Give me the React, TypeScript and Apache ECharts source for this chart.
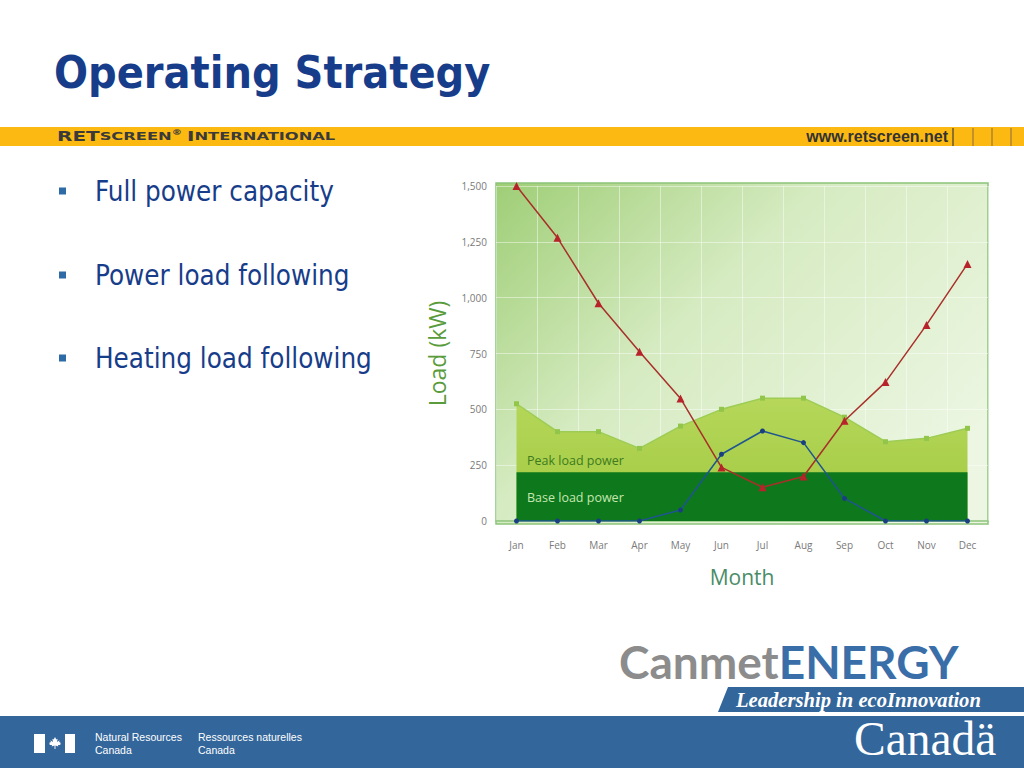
import React, { useEffect, useRef } from 'react';
import * as echarts from 'echarts';

const months = ['Jan', 'Feb', 'Mar', 'Apr', 'May', 'Jun', 'Jul', 'Aug', 'Sep', 'Oct', 'Nov', 'Dec'];
const peakLoadPower = [525, 400, 400, 325, 425, 500, 550, 550, 465, 355, 370, 415];
const baseLoadPower = [218, 218, 218, 218, 218, 218, 218, 218, 218, 218, 218, 218];
const heatingLoad = [1500, 1268, 975, 758, 549, 240, 151, 199, 449, 622, 878, 1151];
const coolingLoad = [0, 0, 0, 0, 49, 299, 403, 351, 101, 0, 0, 0];
const yMin = 0;
const yMax = 1500;
const yStep = 250;
const bullets = ['Full power capacity', 'Power load following', 'Heating load following'];

const leafTemplate = [
  [0, -6], [1.3, -3.6], [2.6, -4.2], [2.1, -1.1], [4.6, -2.7], [4.1, -1.0], [6, -0.1], [5, 0.9],
  [5.6, 2.0], [3.0, 2.0], [3.3, 3.6], [0.5, 2.6], [0.45, 6], [-0.45, 6], [-0.5, 2.6], [-3.3, 3.6],
  [-3.0, 2.0], [-5.6, 2.0], [-5, 0.9], [-6, -0.1], [-4.1, -1.0], [-4.6, -2.7], [-2.1, -1.1],
  [-2.6, -4.2], [-1.3, -3.6],
];

function txt(x: number, y: number, text: string, o: any = {}) {
  return {
    type: 'text',
    x,
    y,
    z: 100,
    scaleX: o.scaleX ?? 1,
    style: {
      text,
      fill: o.fill ?? '#000',
      fontSize: o.fontSize ?? 12,
      fontFamily: o.fontFamily ?? 'Liberation Sans',
      fontWeight: o.fontWeight ?? 'normal',
      fontStyle: o.fontStyle ?? 'normal',
      textAlign: o.align ?? 'left',
      align: o.align ?? 'left',
      textVerticalAlign: 'middle',
      verticalAlign: 'middle',
      rich: o.rich,
    },
  };
}

export default function App() {
  const ref = useRef<HTMLDivElement>(null);
  useEffect(() => {
    document.body.style.margin = '0';
    const chart = echarts.init(ref.current!, null, { renderer: 'svg' });

    const graphics: any[] = [
      // plot background
      {
        type: 'rect',
        z: -1,
        shape: { x: 496, y: 183, width: 492, height: 341 },
        style: {
          fill: new echarts.graphic.LinearGradient(0, 0, 1, 0.7, [
            { offset: 0, color: '#9fce76' },
            { offset: 0.45, color: '#d6ebc2' },
            { offset: 1, color: '#ecf6e2' },
          ]),
          stroke: '#8cc47a',
          lineWidth: 1.5,
        },
      },
      // title
      txt(54, 72, 'Operating Strategy', {
        fill: '#173d8a', fontSize: 44.5, fontWeight: 'bold', fontFamily: 'DejaVu Sans Condensed, DejaVu Sans',
      }),
      // yellow band
      { type: 'rect', z: 5, shape: { x: 0, y: 127, width: 1024, height: 19 }, style: { fill: '#fcb912' } },
      txt(57, 136.5, '{a|RET}{b|SCREEN}{c|®} {a|I}{b|NTERNATIONAL}', {
        scaleX: 1.48,
        rich: {
          a: { fontSize: 13.5, fontWeight: 'bold', fontFamily: 'DejaVu Sans', fill: '#3a3a3a' },
          b: { fontSize: 11, fontWeight: 'bold', fontFamily: 'DejaVu Sans', fill: '#3a3a3a' },
          c: { fontSize: 7, fontWeight: 'bold', fontFamily: 'DejaVu Sans', fill: '#3a3a3a', verticalAlign: 'top' },
        },
      }),
      txt(948, 136.5, 'www.retscreen.net', { align: 'right', fill: '#333333', fontSize: 16, fontWeight: 'bold' }),
      ...[953, 973, 992, 1011].map((x, i) => ({
        type: 'line', z: 6,
        shape: { x1: x, y1: 128, x2: x, y2: 146 },
        style: { stroke: i === 0 ? '#6a5a30' : '#b08530', lineWidth: 1.5 },
      })),
      // bullets
      ...bullets.flatMap((b, i) => {
        const cy = [191, 275, 358][i];
        return [
          { type: 'rect', z: 10, shape: { x: 59, y: cy - 3.5, width: 7, height: 7 }, style: { fill: '#2d6aa6' } },
          txt(95, cy, b, { fill: '#173d8a', fontSize: 27.5, fontFamily: 'DejaVu Sans Condensed, DejaVu Sans' }),
        ];
      }),
      // chart inner labels
      txt(527, 460, 'Peak load power', { fill: '#3d7b1c', fontSize: 12.5, fontFamily: 'Open Sans' }),
      txt(527, 497, 'Base load power', { fill: '#c6e7b0', fontSize: 12.5, fontFamily: 'Open Sans' }),
      // CanmetENERGY logo
      txt(619, 661, '{g|Canmet}{b|ENERGY}', {
        rich: {
          g: { fontSize: 46, fontWeight: 'bold', fontFamily: 'Lato', fill: '#8c8c8c' },
          b: { fontSize: 46, fontWeight: 'bold', fontFamily: 'Lato', fill: '#3a6ea8' },
        },
      }),
      // slanted banner
      {
        type: 'polygon', z: 5,
        shape: { points: [[728, 687], [1024, 687], [1024, 712], [718, 712]] },
        style: { fill: '#33669a' },
      },
      txt(736, 700, 'Leadership in ecoInnovation', {
        fill: '#ffffff', fontSize: 20.6, fontWeight: 'bold', fontStyle: 'italic', fontFamily: 'Liberation Serif',
      }),
      // footer
      { type: 'rect', z: 5, shape: { x: 0, y: 716, width: 1024, height: 52 }, style: { fill: '#33669a' } },
      { type: 'rect', z: 10, shape: { x: 34, y: 734, width: 11, height: 19 }, style: { fill: '#ffffff' } },
      { type: 'rect', z: 10, shape: { x: 65, y: 734, width: 10, height: 19 }, style: { fill: '#ffffff' } },
      {
        type: 'polygon', z: 10,
        shape: { points: leafTemplate.map(([a, b]) => [55 + a * 1.0, 743 + b * 1.0]) },
        style: { fill: '#ffffff' },
      },
      txt(95, 737, 'Natural Resources', { fill: '#ffffff', fontSize: 10.5 }),
      txt(95, 750, 'Canada', { fill: '#ffffff', fontSize: 10.5 }),
      txt(198, 737, 'Ressources naturelles', { fill: '#ffffff', fontSize: 10.5 }),
      txt(198, 750, 'Canada', { fill: '#ffffff', fontSize: 10.5 }),
      txt(854, 739, 'Canadä', { fill: '#ffffff', fontSize: 47.5, fontFamily: 'Liberation Serif' }),
    ];

    chart.setOption({
      animation: false,
      backgroundColor: '#ffffff',
      graphic: { elements: graphics },
      grid: { left: 496, right: 36, top: 186, bottom: 247, containLabel: false },
      xAxis: {
        type: 'category',
        data: months,
        boundaryGap: true,
        name: 'Month',
        nameLocation: 'middle',
        nameGap: 45,
        nameTextStyle: { color: '#4a8c68', fontSize: 21, fontFamily: 'Open Sans' },
        axisLine: { show: true, lineStyle: { color: '#8cc47a', width: 1.5 } },
        axisTick: { show: false },
        axisLabel: { color: '#7a7a7a', fontSize: 10, fontFamily: 'Open Sans', margin: 19 },
        splitLine: { show: true, lineStyle: { color: 'rgba(255,255,255,0.45)', width: 1 } },
      },
      yAxis: {
        type: 'value',
        min: yMin,
        max: yMax,
        interval: yStep,
        name: 'Load (kW)',
        nameLocation: 'middle',
        nameGap: 48,
        nameTextStyle: { color: '#5a9c3c', fontSize: 23, fontFamily: 'Open Sans' },
        axisLine: { show: false },
        axisTick: { show: false },
        axisLabel: {
          color: '#7a7a7a', fontSize: 10, fontFamily: 'Open Sans', margin: 9,
          formatter: (v: number) => v.toLocaleString('en-US'),
        },
        splitLine: { show: true, lineStyle: { color: 'rgba(255,255,255,0.45)', width: 1 } },
      },
      series: [
        {
          name: 'Peak load power',
          type: 'line',
          data: peakLoadPower,
          symbol: 'rect',
          symbolSize: 5,
          itemStyle: { color: '#92c64a' },
          lineStyle: { color: '#9dcc55', width: 1.5 },
          areaStyle: {
            opacity: 1,
            color: new echarts.graphic.LinearGradient(0, 0, 0, 1, [
              { offset: 0, color: '#b6d75a' },
              { offset: 1, color: '#a0c940' },
            ]),
          },
          z: 2,
        },
        {
          name: 'Base load power',
          type: 'line',
          data: baseLoadPower,
          symbol: 'none',
          lineStyle: { width: 0 },
          areaStyle: { opacity: 1, color: '#0d781c' },
          z: 3,
        },
        {
          name: 'Heating load',
          type: 'line',
          data: heatingLoad,
          symbol: 'triangle',
          symbolSize: 8,
          itemStyle: { color: '#b8222a' },
          lineStyle: { color: '#a8302a', width: 1.5 },
          z: 5,
        },
        {
          name: 'Cooling load',
          type: 'line',
          data: coolingLoad,
          symbol: 'circle',
          symbolSize: 5,
          itemStyle: { color: '#1a3f80' },
          lineStyle: { color: '#1f5590', width: 1.5 },
          z: 6,
        },
      ],
    });
    return () => chart.dispose();
  }, []);
  return <div ref={ref} style={{ width: 1024, height: 768 }} />;
}
